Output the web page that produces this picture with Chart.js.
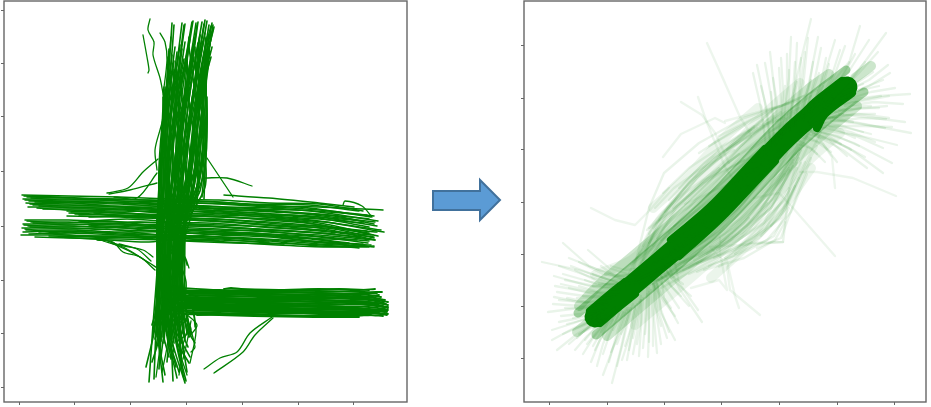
<!DOCTYPE html>
<html>
<head>
<meta charset="utf-8">
<style>
  html, body { margin: 0; padding: 0; background: #fff; }
  body { width: 931px; height: 407px; position: relative; overflow: hidden; }
  canvas { position: absolute; top: 0; }
  #arrow { position: absolute; left: 428px; top: 175px; }
</style>
<script src="https://cdn.jsdelivr.net/npm/chart.js@4"></script>
</head>
<body>
<canvas id="left_chart" width="412" height="407" style="left:0"></canvas>
<canvas id="right_chart" width="411" height="407" style="left:520px"></canvas>
<svg id="arrow" width="78" height="50"><polygon points="5,16 52,16 52,5 72,25 52,45 52,35 5,35" fill="#5b9bd5" stroke="#41719c" stroke-width="2"/></svg>
<script>
var left_x_ticks = [0, 55.5, 111.5, 167, 223, 279, 334];
var left_y_ticks = [0, 54, 107, 161, 216, 270, 323, 377];
var right_x_ticks = [0, 58, 115, 172, 230, 288, 345];
var right_y_ticks = [0, 52, 104, 156, 208, 260, 313];

var vertical_tracks = [
  [153,364,150,320,146,270,141,215,138,160,139,110,136,60,127,20],
  [155,362,152,325,145,280,140,220,140,165,138,115,134,62,130,5],
  [163,364,158,325,150,280,143,225,139,170,141,105,137,55,135,8],
  [166,363,160,320,152,270,146,210,142,160,138,100,140,50,133,25],
  [173,365,165,320,155,275,147,215,141,155,142,110,138,65,144,5],
  [165,362,161,330,156,285,150,225,145,170,139,120,142,60,140,18],
  [174,366,168,330,158,280,151,220,144,160,143,105,144,55,150,30],
  [177,364,171,325,163,275,153,210,147,165,141,100,141,40,146,12],
  [178,362,172,320,160,265,155,215,146,150,145,110,146,65,152,28],
  [179,365,174,330,165,280,157,225,149,170,144,95,148,55,158,9],
  [183,365,176,325,168,285,158,215,148,160,146,115,150,50,157,20],
  [185,363,178,320,170,270,160,220,151,165,149,105,147,60,160,15],
  [186,367,180,330,172,280,162,210,152,155,147,100,152,45,154,6],
  [188,366,181,325,171,265,164,215,150,150,150,110,149,70,155,35],
  [190,362,183,320,174,275,166,225,154,170,151,95,154,60,165,8],
  [192,361,184,330,176,280,168,210,155,160,148,120,151,55,166,4],
  [193,364,186,325,177,270,170,220,153,155,152,105,156,50,170,24],
  [194,362,187,320,178,285,171,215,156,165,153,100,153,65,171,30],
  [195,360,188,330,180,275,172,225,157,150,155,115,158,45,167,6],
  [194,358,187,322,182,265,174,210,159,170,154,90,160,60,163,20],
  [192,355,188,318,183,280,176,220,158,160,156,110,155,70],
  [190,352,185,315,184,270,178,215,160,155,158,100,162,55,168,15],
  [187,350,183,310,185,260,180,205,161,165,157,95,159,75],
  [180,345,180,305,186,255,182,215,162,150,160,105,165,50,169,40],
  [176,340,178,300,187,250,184,210,164,160,159,85,168,60],
  [170,340,176,295,185,240,186,200,163,155,161,110,163,80],
  [168,330,170,285,178,235,177,190,165,145,162,90,166,65],
  [160,330,163,290,170,240,172,195,160,140,164,100,170,55,176,44],
  [157,322,160,280,165,235,168,190,166,150,165,95,160,70],
  [154,318,157,275,162,230,164,185,158,135,167,105,164,75],
  [151,312,155,270,159,225,160,180,163,130,163,85,157,62],
  [148,305,150,262,155,215,156,175,155,130,160,78,150,60],
  [145,298,147,255,150,205,152,170,150,125,156,82,143,65],
  [144,290,145,245,148,200,148,165,148,120,150,85,139,55],
  [149,330,148,285,145,235,144,190,143,150,144,125,145,90,137,40],
  [145,300,143,255,143,210,142,178,139,140,140,100,134,50],
  [152,350,149,310,147,265,146,215,142,175,146,130,148,85,142,30],
  [170,350,166,300,160,250,156,200,152,150,151,125,152,80,148,25],
  [181,352,175,300,170,255,163,205,158,175,155,125,156,90,162,32],
  [191,345,186,300,180,250,175,200,167,170,162,120,166,85,172,52],
  [186,330,182,290,176,245,170,195,162,148,150,130,144,100,139,70],
  [183,318,180,280,174,228,165,180,156,142,146,128,140,105,136,72]
];
var upper_stem_tracks = [
  [150,338,147,295,144,245,142,195,140,165],[153,332,149,290,146,250,144,200,141,160],
  [156,340,151,300,148,248,145,205,143,170],[158,335,153,292,150,240,147,192,144,155],
  [161,342,155,298,151,255,149,198,145,165],[163,338,157,288,153,242,150,205,147,170],
  [166,345,159,296,155,252,152,192,148,158],[169,340,161,290,157,238,153,200,150,165],
  [171,348,164,300,158,250,155,195,149,152],[174,342,166,292,160,244,157,205,152,168],
  [176,350,168,298,162,256,158,190,153,160],[179,344,170,288,164,240,160,202,155,170],
  [181,352,172,302,166,250,162,195,157,155],[184,346,174,294,168,242,163,205,158,165],
  [186,354,176,300,170,254,165,190,160,170],[188,348,178,290,172,238,167,200,161,158],
  [190,340,180,298,174,248,169,192,163,166],[191,335,182,288,176,240,171,205,164,155],
  [192,330,183,296,178,252,173,195,166,170],[190,325,185,290,180,238,175,200,165,160],
  [188,322,186,280,182,245,177,192,167,165],[187,316,187,272,183,235,179,205,168,172],
  [186,310,188,268,185,232,181,196,169,178],[187,300,187,258,186,225,183,190],
  [188,290,188,250,186,215,185,188],[156,310,152,275,149,225,146,185,142,150],
  [163,312,158,268,152,228,149,180,146,145],[172,315,165,272,161,222,155,182,152,148],
  [178,310,171,275,166,225,161,180,157,150],[184,305,177,268,172,220,168,178,162,142],
  [147,300,144,262,141,220,140,185],[150,315,146,280,142,232,141,192],[155,326,148,272,143,228,139,175],
  [160,320,152,282,147,238,146,188],[165,328,156,278,154,232,151,178],[175,330,167,285,159,232,154,186],
  [182,335,173,280,167,236,159,188],[189,332,179,282,173,232,166,182],[193,340,181,290,177,228,172,176],
  [187,345,185,296,184,240,177,178]
];
var stem_tracks = [
  [138,168,138,125,139,90,137,50],[139,160,140,120,141,85,136,48],[141,165,139,130,138,95,139,55],
  [142,170,141,125,143,88,141,52],[144,162,143,118,140,92,142,46],[145,168,142,128,145,84,144,50],
  [147,160,146,122,144,90,146,56],[148,170,144,115,147,86,145,44],[150,165,148,130,146,94,148,52],
  [151,158,149,120,149,82,150,46],[153,168,151,126,148,88,152,54],[154,162,150,116,151,92,153,48],
  [156,172,153,128,150,85,155,44],[157,160,154,118,153,90,157,52],[159,166,156,124,155,82,158,46],
  [160,158,158,116,154,92,160,50],[162,170,160,130,156,84,161,56],[163,160,159,120,158,88,163,44],
  [165,168,161,126,160,80,165,52],[166,158,163,114,162,90,166,46],[167,165,164,124,164,84,168,54],
  [146,140,145,100,143,72,139,62],[152,142,149,104,152,70,147,58],[158,138,156,108,157,72,156,60],
  [141,146,140,110,138,74,134,58],[164,140,162,102,165,70,170,50],[139,150,138,104,137,76,133,62]
];
var upper_band_tracks = [
  [3,192,50,191,100,190,150,188,200,187,250,184,300,183,344,176],
  [8,190,50,189,100,188,150,186,200,185,250,181,300,180,364,177],
  [4,188,50,188,100,186,150,185,200,183,250,180,300,177,355,171],
  [10,186,50,185,100,184,150,182,200,180,250,179,300,175,359,166],
  [7,184,50,183,100,183,150,180,200,178,250,176,300,173,350,168],
  [14,182,50,182,100,180,150,179,200,176,250,173,300,170,358,161],
  [9,180,50,180,100,178,150,176,200,175,250,171,300,168,345,164],
  [18,179,50,177,100,176,150,175,200,172,250,170,300,166,365,155],
  [48,176,100,174,150,172,200,170,250,168,300,164,359,151],
  [50,174,100,172,150,170,200,168,250,165,300,161,350,154],
  [5,191,40,190,80,188,130,187,180,186,230,183,290,182,340,176],
  [12,189,45,187,85,187,135,184,185,184,235,182,290,179,352,170],
  [6,187,42,186,90,185,140,183,190,181,240,178,295,176,348,172],
  [16,185,55,184,95,181,145,181,195,179,245,177,295,172,356,165],
  [11,183,48,181,88,181,138,178,188,177,238,174,288,171,342,166],
  [20,181,58,179,98,179,148,177,198,174,248,172,298,169,350,160],
  [24,178,60,178,105,177,155,173,205,173,255,169,305,165,362,157],
  [52,175,96,175,145,171,195,171,245,167,295,163,354,152],
  [56,173,110,171,160,169,210,167,260,163,310,160,348,156],
  [60,172,115,173,165,168,215,165,265,161,315,158,355,149],
  [70,170,125,171,170,167,220,164,270,160,320,155,352,152],
  [75,174,120,169,175,171,225,169,275,166,325,158,358,155],
  [205,192,250,189,300,184,335,180],[195,178,255,175,315,171,355,163]
];
var lower_band_tracks = [
  [48,171,100,170,150,168,200,166,250,162,300,159,356,147],
  [6,167,50,167,100,165,150,164,200,162,250,160,300,156,355,150],
  [12,165,50,165,100,163,150,162,200,160,250,157,300,154,352,148],
  [4,163,50,163,100,162,150,160,200,158,250,155,300,152,356,147],
  [9,161,50,161,100,159,150,158,200,155,250,153,300,150,349,144],
  [3,159,50,159,100,157,150,156,200,154,250,151,300,147,355,140],
  [7,157,50,157,100,155,150,155,200,152,250,150,300,145,352,142],
  [4,155,50,156,100,153,150,152,200,150,250,147,300,143,345,141],
  [10,153,50,154,100,152,150,150,200,149,250,146,300,141,350,140],
  [2,152,50,152,100,150,150,149,200,147,250,145],
  [16,150,50,149,100,148,150,147,200,146],
  [40,150,90,147,130,145,170,150,200,153,260,152,330,144],
  [8,166,44,164,88,166,140,161,190,161,240,158,290,155,340,150],
  [14,164,52,162,92,164,145,159,195,157,245,156,295,151,350,146],
  [5,162,46,160,84,161,135,159,185,156,235,154,285,149,338,147],
  [11,160,55,158,96,160,142,155,192,153,242,152,292,146,344,143],
  [6,158,42,154,88,158,130,153,180,151,230,149,280,146,330,142],
  [15,156,58,155,102,154,152,151,202,148,252,144,302,142,340,139],
  [20,154,62,151,110,151,158,149,208,145,258,142,308,140,355,141],
  [30,151,70,150,120,149,165,146,215,144,265,143],
  [60,165,108,168,156,165,206,163,256,159,306,157],
  [70,161,118,165,166,163,216,159,266,156,316,153]
];
var bottom_band_tracks = [
  [150,100,200,97,250,97,300,98,340,97,356,98],
  [155,96,200,96,250,96,300,96,345,95,363,95],
  [160,94,200,94,250,94,300,94,350,92,362,90],
  [148,92,200,92,250,93,300,92,350,90,366,87],
  [162,90,200,90,250,91,300,90,350,88,369,85],
  [150,88,200,89,250,88,300,89,350,87,365,84],
  [158,87,200,87,250,87,300,87,350,85,369,82],
  [165,85,200,85,250,85,300,85,350,84,364,81],
  [152,84,200,84,250,84,300,83,350,82,369,79],
  [160,82,200,82,250,82,300,81,350,80,366,78],
  [155,80,200,80,250,80,300,80,350,78,369,77],
  [166,79,200,79,250,78,300,78,350,77,368,75],
  [150,78,200,78,250,77,300,76,350,75,369,73],
  [158,76,200,76,250,75,300,75,350,74,362,73],
  [168,75,200,74,250,74,300,73,350,72,364,71],
  [170,74,210,73,250,72,300,71,345,72],
  [175,95,230,92,290,88,340,84,367,80],
  [180,83,230,86,290,92,345,90,360,92],
  [172,92,225,78,285,76,340,76,368,76],
  [176,78,230,76,290,74,355,74],
  [178,72,225,73,290,71,330,71,352,72],
  [205,98,212,99,222,98,270,97,320,98,350,97],
  [160,97,215,95,275,95,330,93,358,94],
  [170,93,220,93,270,92,325,93,360,88],
  [165,91,210,91,265,89,320,91,364,86],
  [158,89,225,88,280,86,335,86,367,83],
  [172,86,218,84,272,83,328,84,369,80],
  [168,83,230,81,285,82,338,79,366,75],
  [162,80,220,79,268,79,322,78,368,72],
  [175,77,228,75,282,76,342,73],
  [165,73,235,71,295,70,340,70]
];
var stray_tracks = [
  [131,368,129,357,135,345,134,332,141,309,144,294],
  [124,352,128,330,130,317,129,314],
  [141,354,146,345,148,327,144,292],
  [233,201,208,209,186,209],
  [188,229,214,190],
  [139,228,124,215,109,199,88,194],
  [138,204,111,197,90,193],
  [138,214,118,189,95,190],
  [151,292,141,257,136,237,138,217],
  [78,147,94,145,104,135,121,130,136,117],
  [81,149,101,142,124,137,134,130],
  [84,146,104,140,118,132,130,124],
  [92,144,110,136,124,128,140,118],
  [100,143,118,138,132,126],
  [185,18,201,29,218,35,231,54,253,70],
  [195,14,224,35,236,52,254,69],
  [324,182,326,186,343,181,353,170],
  [170,119,168,125,166,130,168,122],
  [176,60,175,70,172,85],
  [166,74,178,62,170,50],[160,76,172,58,162,48],[154,72,165,60,158,44],
  [174,80,177,55,171,24],[168,70,176,40,172,35],[172,66,168,45,164,28],[165,62,160,40,168,12],
  [170,62,164,42,160,12],[150,60,148,40,143,15],[143,56,140,32,137,10]
];

var core_wide_tracks = [
  [46,41,66,58,99,86,133,115,166,145,204,185,238,221,271,250,298,271]
];
var core_tracks = [
  [41,47,61,64,76,76],[51,35,71,52,86,64],
  [122,118,161,151,199,191,216,209],[130,102,171,139,209,179,226,197],
  [255,245,266,256,293,277],[268,230,276,244,303,265]
];
var inner_shoulder_tracks = [
  [29,45,57,69,90,97,124,126,157,156,195,196,229,232,262,261,297,288],
  [47,23,75,47,108,75,142,104,175,134,213,174,247,210,280,239,315,266]
];
var middle_shoulder_tracks = [
  [30,52,52,75,85,103,119,132,152,162,190,202,224,238,257,267,280,284],
  [58,22,80,41,113,69,147,98,180,128,218,168,252,204,285,233,308,252],
  [28,26,46,41],[306,280,322,292]
];
var outer_shoulder_tracks = [
  [46,83,88,102,113,140,146,170,184,210,218,246,251,275],
  [86,33,119,61,153,90,186,120,224,160,258,196,291,225],
  [104,150,137,180,175,220,209,250],
  [162,80,195,110,233,150,262,190]
];
var lower_fan_tracks = [
  [-7,96,30,88,70,75],[14,115,40,92,75,78],[39,108,60,90,85,82],[5,82,40,72,70,68],[5,61,35,55,65,62],
  [-1,46,30,50,55,55],[3,28,25,35,50,45],[3,18,25,30,48,40],[8,8,28,24,48,36],[10,92,45,80,72,72],
  [20,100,50,88,78,80],[6,72,40,66,66,64],[8,66,35,62,60,60],[4,54,32,52,58,54],[12,42,32,44,52,48],
  [16,78,45,72,70,70],[26,88,50,76,72,70],[30,72,50,66,70,66],[18,60,38,56,58,56],[10,36,30,40,50,46],
  [14,24,32,32,50,42],[20,14,34,26,52,38],[26,8,38,22,54,36],[34,4,44,20,58,36],[42,-4,50,16,60,38],
  [48,-8,54,14,64,38],[54,-17,66,15,76,45],[63,-25,72,10,80,48],[73,-2,80,20,86,50],[62,6,70,24,78,48],
  [80,8,84,28,90,56],[90,2,92,30,94,60],[99,1,100,30,100,70],[108,5,105,40,105,75],[126,18,112,45,108,78],
  [129,35,115,60,112,85],[153,36,130,70,118,95],[149,48,130,75,125,100],[118,20,110,45,106,72],[100,16,100,40,100,66],
  [112,32,106,52,104,74],[88,14,92,36,92,58],[76,12,82,30,86,52],[68,14,74,30,80,50],[58,18,64,32,72,48],
  [140,52,122,72,114,88],[130,50,118,68,108,80],[44,12,52,26,62,42],[36,18,46,30,58,44],[28,20,40,32,54,44],
  [44,72,62,74,84,78],[52,92,66,82,88,84],[34,62,50,62,68,64],[40,50,52,54,64,58],[24,40,40,44,56,50],
  [14,84,42,76,68,72],[22,92,48,82,74,74],[30,96,54,84,80,78],[12,74,38,68,62,62],[20,70,44,64,64,60],
  [10,58,34,56,54,52],[16,50,36,50,54,48],[18,34,34,38,50,42],[24,28,38,34,54,40],[30,24,42,30,56,38],
  [38,14,48,26,60,40],[46,8,54,24,66,42],[54,4,60,22,70,44],[60,-4,66,18,74,46],[68,-8,74,16,82,50],
  [78,-2,82,20,88,54],[84,4,88,26,92,58],[94,10,96,34,98,64],[104,12,104,36,102,68],[112,14,108,40,106,74],
  [120,26,112,48,108,74],[96,24,98,46,98,70],[84,20,88,40,92,62],[72,24,78,38,84,54],[64,28,70,38,78,50],
  [52,26,60,36,70,48],[44,30,54,38,66,50],[36,38,48,44,60,52],[30,48,44,52,60,56],[28,60,44,60,62,60],
  [36,78,52,72,70,70],[44,84,60,78,80,78],[50,74,66,74,84,78],[56,84,72,82,90,84],[62,92,76,88,94,90],
  [142,62,124,78,114,92],[132,62,118,76,108,86],[122,50,112,64,106,78],[134,74,120,84,114,94],[126,42,114,58,104,74]
];
var upper_fan_tracks = [
  [262,339,250,290,235,225],[311,332,300,295,280,258],[337,325,315,295,290,265],[242,321,240,280,232,220],
  [248,315,246,270,240,228],[269,321,262,285,252,238],[259,320,255,280,246,232],[221,306,226,262,228,215],
  [208,293,216,255,222,208],[216,295,222,262,226,214],[204,285,212,250,218,204],[291,308,282,280,268,250],
  [329,306,310,285,285,260],[339,293,320,278,292,264],[341,285,320,272,296,262],[361,264,330,262,298,258],
  [354,254,325,256,296,252],[338,252,318,250,290,248],[337,239,312,240,282,236],[343,231,315,232,280,232],
  [362,225,325,232,284,240],[348,213,312,222,274,228],[343,195,305,215,268,228],[334,185,300,210,266,224],
  [316,201,290,215,262,226],[277,300,272,275,262,245],[232,300,234,268,232,225],[252,300,250,265,244,232],
  [286,318,276,285,262,248],[320,318,302,290,280,262],[330,272,312,268,290,262],[346,270,322,266,296,258],
  [332,262,312,258,288,252],[326,244,306,244,280,240],[322,224,298,230,270,232],[310,212,288,222,262,228],
  [298,202,280,218,258,224],[300,240,282,240,260,236],[300,296,284,276,268,252],[270,285,264,268,254,240],
  [240,288,240,262,236,226],[224,280,228,255,230,222],[314,274,298,268,280,254],[340,240,310,244,276,240],
  [356,236,325,240,290,244],[334,210,302,224,268,232],[288,196,274,214,252,224],[276,196,262,210,248,214],
  [230,290,232,258,230,222],[238,304,238,268,234,224],[246,296,244,264,240,228],[256,306,252,272,246,234],
  [264,296,260,270,252,240],[272,310,266,280,256,242],[280,294,274,272,262,246],[296,312,286,284,272,254],
  [306,304,294,282,276,256],[316,296,302,278,284,260],[324,286,306,274,286,258],[334,278,314,270,290,258],
  [340,262,318,258,292,254],[330,250,310,250,286,246],[322,252,304,252,282,244],[336,230,312,234,282,238],
  [326,216,302,226,272,234],[314,226,294,232,268,236],[306,220,288,228,262,232],[318,190,294,208,264,224],
  [302,208,284,218,258,228],[292,214,276,224,254,230],[282,206,268,216,248,222],[268,204,256,214,244,220],
  [290,276,278,266,264,250],[302,262,288,256,272,246],[312,250,296,246,276,238],[304,236,288,238,270,234],
  [262,278,256,262,248,236],[248,276,244,256,238,230],[236,272,234,250,230,224],[222,266,224,244,224,216],
  [212,272,218,248,222,212],[274,272,266,258,254,238],[284,256,272,248,260,236],[294,244,278,240,262,232]
];
var middle_tracks = [
  [80,85,103,130,130,165,165,200,205,225,250,250],[85,90,100,150,115,185,150,215,195,240,240,255],
  [90,92,112,140,140,175,172,205,210,232,236,240],[92,95,115,130,142,160,178,195,212,218,245,245],
  [96,92,118,125,145,150,180,180,215,212,240,232],[88,88,110,120,136,148,168,170,200,200,232,228],
  [100,100,122,128,148,160,172,182,205,210,236,230],[104,112,125,145,150,172,185,200,218,225,240,236],
  [108,120,128,152,155,178,180,190,210,205],[94,98,108,135,125,150,155,175,195,198],
  [95,70,150,100,190,125,225,160,240,190,260,225],[104,74,140,98,178,118,215,145,238,180,255,215],
  [110,78,150,108,185,130,220,165,245,200],[118,85,155,112,192,140,226,175,250,210],
  [125,94,162,120,198,150,232,185,258,222],[130,98,170,128,205,160,236,198,262,228],
  [112,70,158,95,200,115,234,116,240,168,250,205],[100,76,140,90,180,112,215,135,230,165,248,195],
  [122,80,160,102,196,128,222,150,236,178,252,208],[135,100,175,124,210,158,240,190],
  [88,78,118,92,150,116,190,150,222,190],[92,80,124,96,156,118,195,155,225,198],
  [105,95,135,112,170,135,200,172,230,208],[110,98,140,120,172,150,205,178,228,200],
  [115,110,145,132,175,158,208,190,232,218],[118,118,148,142,178,168,210,195,235,222],
  [120,125,150,150,182,176,212,202,240,230],[125,132,155,160,185,186,214,212],
  [100,115,125,140,160,168,195,205,225,225],[96,108,120,148,148,180,182,210,215,232],
  [135,95,165,110,195,135,220,170,238,205],[140,90,172,104,205,130,228,160,244,195],
  [145,98,178,115,208,142,230,178,248,212],[150,102,182,118,212,148,236,184],
  [128,88,165,102,200,125,236,158,252,195],[115,88,150,104,182,122,218,155],
  [84,80,102,92,130,108,160,130,190,165],[82,94,104,110,130,132,158,158,190,185],
  [88,100,106,118,134,138,165,160,198,195],[98,128,118,150,140,168,170,190],
  [106,150,125,170,150,188,185,208],[120,158,145,185,175,212,205,230],
  [130,170,155,195,190,222,225,242],[114,165,140,190,170,210,205,232],
  [148,94,185,108,216,130,234,150,250,180],[160,92,200,108,225,122,240,150],
  [155,88,195,100,226,118,236,136],[165,100,205,120,232,140,246,172],
  [82,74,112,82,140,94,170,112,200,140],[78,72,108,78,135,88,165,104],
  [178,208,210,230,240,248,262,262],[170,222,205,240,238,255,268,268],
  [160,212,195,232,228,250,255,262],[150,205,185,228,220,248,250,258],
  [212,122,230,140,250,180,268,212],[222,132,240,158,258,198,272,226],
  [208,110,232,120,246,158,262,200],
  [84,96,110,128,134,152,162,178,192,212,226,240],[90,104,114,136,138,160,166,186,198,218,232,246],
  [94,112,118,142,142,166,170,192,202,222],[100,124,122,156,146,180,176,204,208,230],
  [104,130,128,160,152,184,182,212,214,238],[110,138,134,168,158,194,190,218,222,246],
  [116,146,140,176,164,200,196,224,226,250],[124,150,148,180,172,204,202,228],
  [102,82,130,100,164,124,198,160,230,196,254,224],[108,86,138,106,170,126,204,166,234,204],
  [114,84,146,102,176,124,210,154,240,188],[120,90,152,106,184,126,218,158,244,198],
  [126,84,160,104,192,122,224,152,248,190],[134,88,168,106,200,128,230,168,250,200],
  [140,84,176,100,208,124,236,160,256,196],[148,86,184,102,216,128,240,170],
  [152,96,190,112,220,140,242,176,258,210],[158,104,194,126,222,158,244,192],
  [168,108,198,132,226,168,248,204],[172,116,204,146,230,182,252,214],
  [176,100,210,120,236,148,254,186],[186,104,218,118,242,146,258,184],
  [100,130,124,148,156,176,190,204],[108,108,132,124,160,148,188,176,216,208],
  [112,118,138,138,166,160,194,190,222,216],[122,108,150,126,178,146,206,176,230,206],
  [130,112,156,136,184,162,212,184,236,212],[136,122,162,146,190,172,218,198,242,226],
  [142,132,168,156,194,178,222,208,248,236],[146,124,172,148,200,170,226,196,250,226]
];
var long_stray_tracks = [
  [42,150,66,138,86,133,101,148,120,170],
  [132,256,153,243,166,225,180,195],
  [149,261,158,235,176,191,190,170],
  [158,315,176,275,171,286,191,241,201,225],
  [286,102,244,150,230,165,205,160],
  [211,43,181,68,178,91,203,116],
  [347,162,304,180,268,186,251,186],
  [286,170,283,201,270,220],
  [234,116,161,111,171,101,171,120],
  [136,154,160,165,190,178,212,192],
  [114,201,132,224,166,240,176,235],
  [142,70,170,78,178,68,172,100],
  [176,237,206,245,230,252],
  [170,91,178,97,186,62,190,50]
];

function track_points(track) {
  var points = [];
  for (var i = 0; i < track.length; i += 2) {
    points.push({x: track[i], y: track[i + 1]});
  }
  return points;
}

function track_sets(tracks, color, width, tension) {
  return tracks.map(function (track) {
    return {
      data: track_points(track),
      borderColor: color,
      borderWidth: width,
      borderCapStyle: 'round',
      borderJoinStyle: 'round',
      showLine: true,
      pointRadius: 0,
      tension: tension || 0,
    };
  });
}

// matplotlib style frame, no labels
const frame_plugin = {
  id: 'frame',
  afterDraw(chart) {
    const {ctx, chartArea} = chart;
    ctx.save();
    ctx.strokeStyle = '#666666';
    ctx.lineWidth = 1.4;
    ctx.strokeRect(chartArea.left, chartArea.top, chartArea.right - chartArea.left, chartArea.bottom - chartArea.top);
    ctx.restore();
  }
};

function axis(min, max, ticks, position) {
  return {
    type: 'linear',
    position: position,
    min: min,
    max: max,
    afterBuildTicks: function (scale) {
      scale.ticks = ticks.map(function (v) { return {value: v}; });
    },
    ticks: {display: false},
    grid: {drawOnChartArea: false, drawTicks: true, tickLength: 3, tickColor: '#666666'},
    border: {display: false},
  };
}

function make_chart(id, datasets, x_axis, y_axis) {
  return new Chart(document.getElementById(id), {
    type: 'scatter',
    data: {datasets: datasets},
    options: {
      responsive: false,
      animation: false,
      layout: {padding: {left: 1, right: 5, top: 1, bottom: 2}},
      scales: {x: x_axis, y: y_axis},
      plugins: {legend: {display: false}, tooltip: {enabled: false}},
    },
    plugins: [frame_plugin],
  });
}

const green = 'rgb(0, 128, 0)';
const left_sets = track_sets(vertical_tracks, green, 1.6, 0.3)
  .concat(track_sets(upper_stem_tracks, green, 1.6, 0.3))
  .concat(track_sets(stem_tracks, green, 1.7, 0.3))
  .concat(track_sets(upper_band_tracks, green, 1.5, 0.3))
  .concat(track_sets(lower_band_tracks, green, 1.5, 0.3))
  .concat(track_sets(bottom_band_tracks, green, 1.8, 0.3))
  .concat(track_sets(stray_tracks, green, 1.3, 0.3));

const soft = 'rgba(0, 128, 0, 0.085)';
const right_sets = track_sets(long_stray_tracks, 'rgba(0, 128, 0, 0.07)', 2.4)
  .concat(track_sets(outer_shoulder_tracks, 'rgba(0, 128, 0, 0.08)', 10, 0.4))
  .concat(track_sets(middle_shoulder_tracks, 'rgba(0, 128, 0, 0.2)', 10, 0.4))
  .concat(track_sets(inner_shoulder_tracks, 'rgba(0, 128, 0, 0.35)', 9, 0.4))
  .concat(track_sets(lower_fan_tracks, soft, 2.3))
  .concat(track_sets(upper_fan_tracks, soft, 2.3))
  .concat(track_sets(middle_tracks, soft, 2.4))
  .concat(track_sets(core_wide_tracks, green, 21, 0.4))
  .concat(track_sets(core_tracks, green, 8, 0.4));

make_chart('left_chart', left_sets, axis(-15, 388, left_x_ticks, 'bottom'), axis(-15, 386, left_y_ticks, 'left'));
make_chart('right_chart', right_sets, axis(-25, 377, right_x_ticks, 'bottom'), axis(-44, 357, right_y_ticks, 'left'));
</script>
</body>
</html>
